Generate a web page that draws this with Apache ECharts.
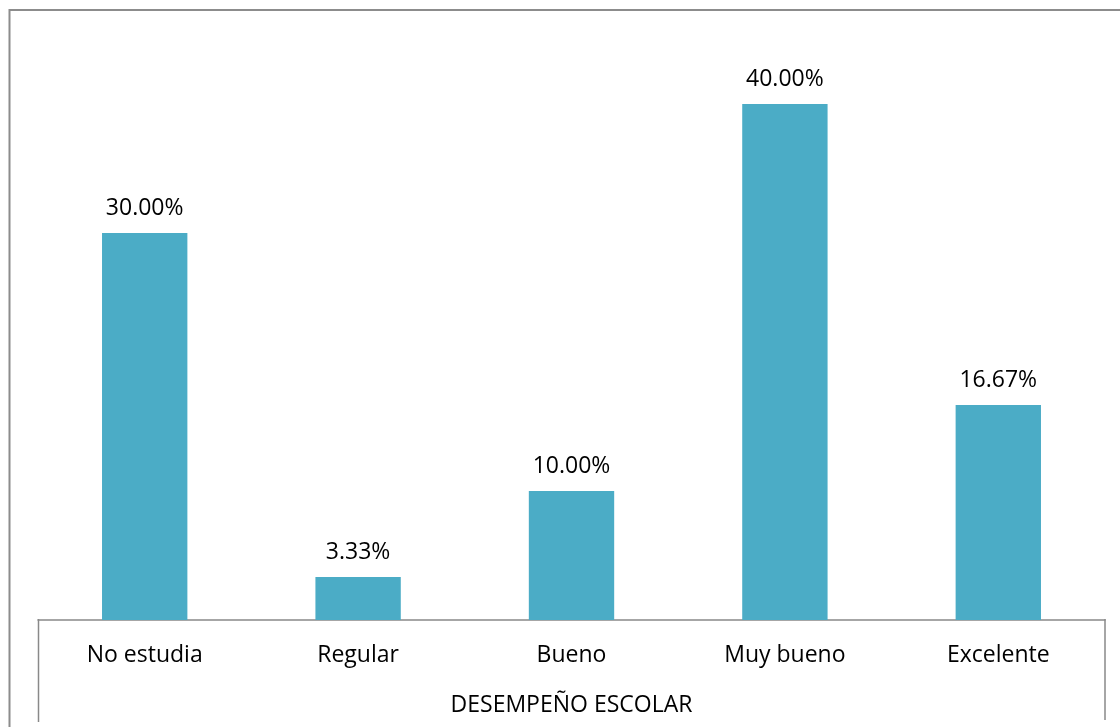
<!DOCTYPE html>
<html><head><meta charset="utf-8">
<script src="https://cdn.jsdelivr.net/npm/echarts@6/dist/echarts.min.js"></script>
<style>html,body{margin:0;padding:0;background:#fff}#c{width:1120px;height:727px}</style>
</head><body><div id="c"></div>
<script>
const categories = ['No estudia', 'Regular', 'Bueno', 'Muy bueno', 'Excelente'];
const values = [30.00, 3.33, 10.00, 40.00, 16.67];
const axisTitle = 'DESEMPEÑO ESCOLAR';

const chart = echarts.init(document.getElementById('c'), null, {renderer: 'canvas'});
const FONT = 'Open Sans';
const FS = 23;
chart.setOption({
  animation: false,
  backgroundColor: '#fff',
  grid: {left: 38, right: 15, top: 104, bottom: 107},
  xAxis: {
    type: 'category', data: categories,
    axisLine: {lineStyle: {color: '#898989', width: 1.5}},
    axisTick: {show: false},
    axisLabel: {color: '#000', fontSize: FS, fontFamily: FONT, margin: 24},
    name: axisTitle, nameLocation: 'middle', nameGap: 74,
    nameTextStyle: {color: '#000', fontSize: FS, fontFamily: FONT}
  },
  yAxis: {type: 'value', min: 0, max: 40, show: false, splitLine: {show: false}},
  series: [{
    type: 'bar', data: values, barWidth: '40%',
    itemStyle: {color: '#4BACC6'},
    label: {show: true, position: 'top', distance: 13, color: '#000', fontSize: FS, fontFamily: FONT,
      formatter: p => p.value.toFixed(2) + '%'}
  }],
  graphic: [
    {type: 'polyline', shape: {points: [[9.5, 727], [9.5, 10], [1120, 10]]}, style: {stroke: '#8c8c8c', lineWidth: 2, fill: null}},
    {type: 'line', shape: {x1: 38.5, y1: 619, x2: 38.5, y2: 722}, style: {stroke: '#898989', lineWidth: 1.5}},
    {type: 'line', shape: {x1: 1105, y1: 619, x2: 1105, y2: 720}, style: {stroke: '#898989', lineWidth: 1.5}}
  ]
});
</script></body></html>
